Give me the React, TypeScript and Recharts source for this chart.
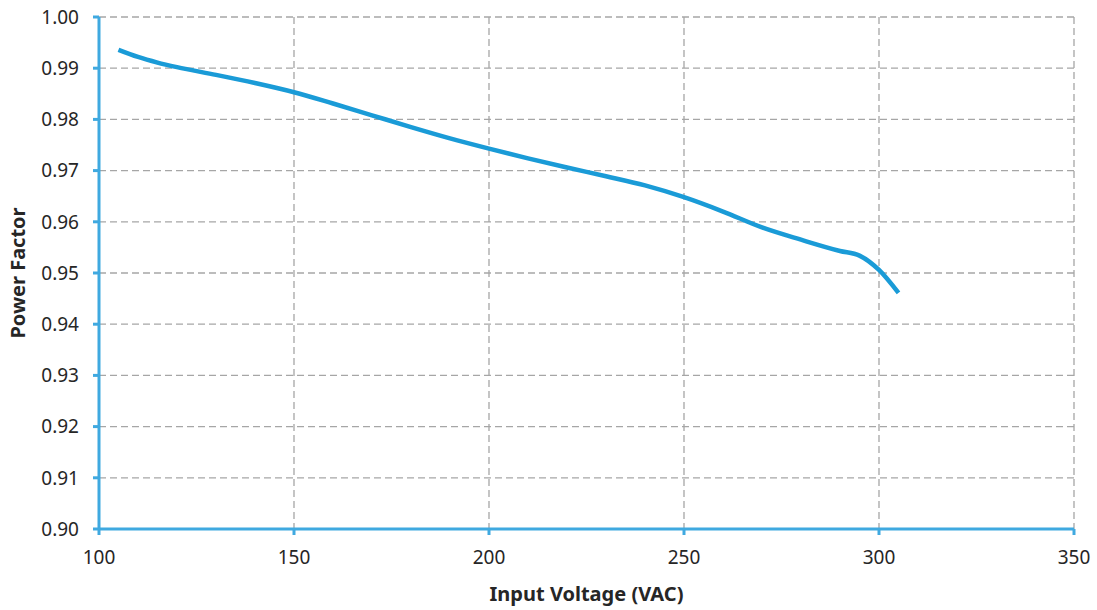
import React from 'react';
import { LineChart, Line, XAxis, YAxis, CartesianGrid } from 'recharts';

// Input voltage (VAC) and measured power factor
const voltage = [105, 110, 115, 120, 130, 140, 150, 160, 170, 180, 190, 200, 210, 220, 230, 240, 250, 260, 270, 280, 290, 295, 300, 305];
const powerFactor = [0.9936, 0.9922, 0.9911, 0.9902, 0.9887, 0.9871, 0.9853, 0.9831, 0.9808, 0.9785, 0.9763, 0.9743, 0.9724, 0.9706, 0.9689, 0.9671, 0.9648, 0.9620, 0.9589, 0.9565, 0.9543, 0.9534, 0.9506, 0.9461];

const xTicks = [100, 150, 200, 250, 300, 350];
const yTicks = [0.9, 0.91, 0.92, 0.93, 0.94, 0.95, 0.96, 0.97, 0.98, 0.99, 1.0];

const data = voltage.map((v, i) => ({ v, pf: powerFactor[i] }));

const AXIS = '#3fa9e0';
const LINE = '#1a9bd7';
const FONT = '"Noto Sans", "Open Sans", sans-serif';

export default function App() {
  return (
    <div style={{ position: 'absolute', left: 0, top: 0, background: '#fff' }}>
      <LineChart width={1097} height={610} data={data} margin={{ top: 17, right: 23, left: 0, bottom: 0 }}>
        <CartesianGrid stroke="#a6a6a6" strokeDasharray="7 4" strokeWidth={1.3} />
        <XAxis
          dataKey="v"
          type="number"
          domain={[100, 350]}
          ticks={xTicks}
          height={81}
          stroke={AXIS}
          strokeWidth={3}
          tickSize={6}
          tickMargin={16}
          tick={{ fill: '#262626', fontSize: 19, fontFamily: FONT }}
          tickLine={{ stroke: AXIS, strokeWidth: 3 }}
          label={{ value: 'Input Voltage (VAC)', position: 'insideBottom', offset: 9, fill: '#262626', fontSize: 20, fontWeight: 'bold', fontFamily: FONT }}
        />
        <YAxis
          type="number"
          domain={[0.9, 1.0]}
          ticks={yTicks}
          width={99}
          stroke={AXIS}
          strokeWidth={3}
          tickSize={6}
          tickMargin={14}
          tickFormatter={(t: number) => t.toFixed(2)}
          tick={{ fill: '#262626', fontSize: 19, fontFamily: FONT }}
          tickLine={{ stroke: AXIS, strokeWidth: 3 }}
          label={{ value: 'Power Factor', angle: -90, position: 'center', dx: -32, fill: '#262626', fontSize: 20, fontWeight: 'bold', fontFamily: FONT }}
        />
        <Line type="monotone" dataKey="pf" stroke={LINE} strokeWidth={4.5} dot={false} isAnimationActive={false} />
      </LineChart>
    </div>
  );
}
